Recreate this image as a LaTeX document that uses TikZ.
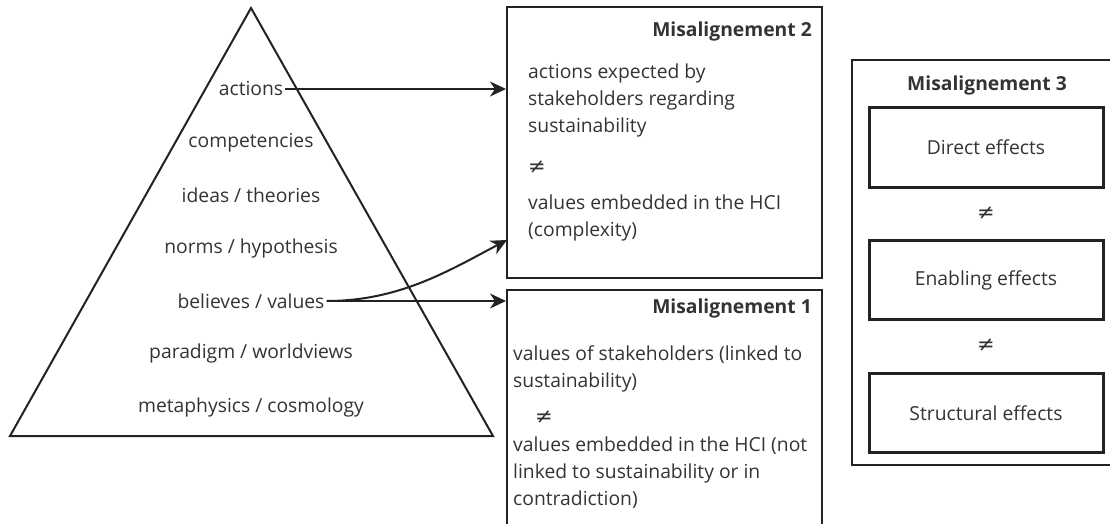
\documentclass[tikz,border=0pt]{standalone}
\usepackage{fontspec}
\setmainfont{Open Sans}
\newfontfamily\symfont{DejaVu Sans}
\usetikzlibrary{arrows.meta}
\definecolor{ink}{HTML}{333333}
\definecolor{edge}{HTML}{222222}
\begin{document}
\begin{tikzpicture}[x=1pt,y=-1pt,
  every node/.style={text=ink, font=\fontsize{19.3}{27}\selectfont},
  lbl/.style={inner sep=2pt},
  body/.style={align=left, inner sep=0pt, anchor=west},
  neq/.style={font=\symfont\fontsize{21}{27}\selectfont, inner sep=0pt},
  ttl/.style={font=\fontsize{19.3}{27}\selectfont\bfseries, inner sep=0pt},
  box/.style={draw=edge, line width=2pt, fill=none},
  innerbox/.style={draw=edge, line width=3pt, minimum width=234pt, minimum height=79pt},
  arr/.style={draw=edge, line width=2pt, -{Stealth[length=16pt,width=15pt,inset=5pt]}}]
\useasboundingbox (0,0) rectangle (1110,524);
\clip (0,0) rectangle (1110,524);
% pyramid
\draw[edge, line width=2pt, line join=miter] (251,8) -- (10,436) -- (493,436) -- cycle;
\node[lbl] (act) at (251,89) {actions};
\node[lbl] (comp) at (251,143) {competencies};
\node[lbl] (idea) at (251,195) {ideas / theories};
\node[lbl] (norm) at (251,248) {norms / hypothesis};
\node[lbl] (bel) at (251,301) {believes / values};
\node[lbl] (para) at (251,353) {paradigm / worldviews};
\node[lbl] (meta) at (251,407) {metaphysics / cosmology};
% box 2
\node[box, minimum width=315pt, minimum height=271pt] (b2) at (664.5,142.5) {};
\node[ttl, anchor=east] (t2) at (812,31) {Misalignement 2};
\node[body] (b2a) at (528,100) {actions expected by\\stakeholders regarding\\sustainability};
\node[neq, anchor=west] (b2n) at (528,167) {≠};
\node[body] (b2b) at (528,218) {values embedded in the HCI\\(complexity)};
% box 1
\node[box, minimum width=315pt, minimum height=250pt] (b1) at (664.5,415) {};
\node[ttl, anchor=east] (t1) at (812,308) {Misalignement 1};
\node[body] (b1a) at (513,369) {values of stakeholders (linked to\\sustainability)};
\node[neq, anchor=west] (b1n) at (535,417) {≠};
\node[body] (b1b) at (513,473) {values embedded in the HCI (not\\linked to sustainability or in\\contradiction)};
% box 3
\node[draw=edge, line width=1.5pt, minimum width=280pt, minimum height=405pt] (b3) at (992,262.5) {};
\node[ttl] (t3) at (987,85) {Misalignement 3};
\node[innerbox] (d) at (986,147.5) {Direct effects};
\node[innerbox] (e) at (986,280) {Enabling effects};
\node[innerbox] (s) at (986,413) {Structural effects};
\node[neq] (n1) at (986,213) {≠};
\node[neq] (n2) at (986,345) {≠};
% arrows
\coordinate (c2) at (507,240);
\draw[arr] (act.east) -- (act.east -| b2.west);
\draw[arr] (bel.east) -- (bel.east -| b1.west);
\draw[arr] (bel.east) .. controls (400,301) and (450,270) .. (c2);
\end{tikzpicture}
\end{document}
